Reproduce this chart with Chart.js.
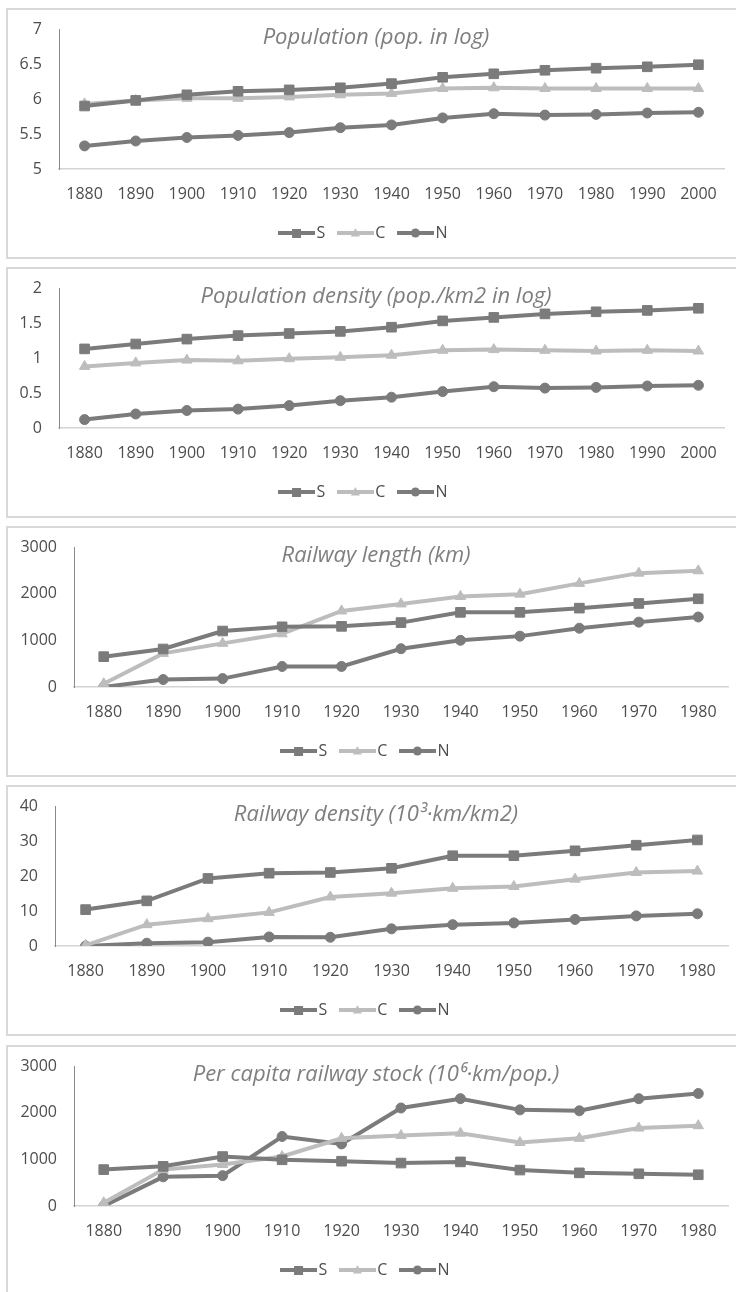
<!DOCTYPE html>
<html lang="en">
<head>
  <meta charset="UTF-8">
  <title>Population and railways by region</title>
  <script src="https://cdn.jsdelivr.net/npm/chart.js"></script>
  <style>
    body { margin: 0; overflow: hidden; background: #fff; }
    .panel { position: absolute; left: 6px; width: 736px; height: 247px; border: 2px solid #d9d9d9; }
    .panel canvas { display: block; }
  </style>
</head>
<body>
  <div class="panel" style="top: 8px;"><canvas id="c1" width="736" height="247"></canvas></div>
  <div class="panel" style="top: 267px;"><canvas id="c2" width="736" height="247"></canvas></div>
  <div class="panel" style="top: 526px;"><canvas id="c3" width="736" height="247"></canvas></div>
  <div class="panel" style="top: 785px;"><canvas id="c4" width="736" height="247"></canvas></div>
  <div class="panel" style="top: 1045px;"><canvas id="c5" width="736" height="247"></canvas></div>

  <script>
    // categories
    const yearsLong = ['1880', '1890', '1900', '1910', '1920', '1930', '1940', '1950', '1960', '1970', '1980', '1990', '2000'];
    const yearsShort = ['1880', '1890', '1900', '1910', '1920', '1930', '1940', '1950', '1960', '1970', '1980'];
    const regions = ['S', 'C', 'N'];

    // population (log)
    const popS = [5.90, 5.98, 6.06, 6.11, 6.13, 6.16, 6.22, 6.31, 6.36, 6.41, 6.44, 6.46, 6.49];
    const popC = [5.93, 5.98, 6.01, 6.01, 6.03, 6.06, 6.08, 6.15, 6.16, 6.15, 6.15, 6.15, 6.15];
    const popN = [5.33, 5.40, 5.45, 5.48, 5.52, 5.59, 5.63, 5.73, 5.79, 5.77, 5.78, 5.80, 5.81];
    const popTicks = [5, 5.5, 6, 6.5, 7];

    // population density (log)
    const densS = [1.13, 1.20, 1.27, 1.32, 1.35, 1.38, 1.44, 1.53, 1.58, 1.63, 1.66, 1.68, 1.71];
    const densC = [0.88, 0.93, 0.97, 0.96, 0.99, 1.01, 1.04, 1.11, 1.12, 1.11, 1.10, 1.11, 1.10];
    const densN = [0.12, 0.20, 0.25, 0.27, 0.32, 0.39, 0.44, 0.52, 0.59, 0.57, 0.58, 0.60, 0.61];
    const densTicks = [0, 0.5, 1, 1.5, 2];

    // railway length (km)
    const railS = [650, 815, 1200, 1290, 1300, 1380, 1600, 1600, 1690, 1790, 1890];
    const railC = [70, 720, 935, 1140, 1630, 1780, 1940, 1990, 2220, 2440, 2490];
    const railN = [0, 160, 180, 440, 440, 820, 1000, 1090, 1260, 1390, 1500];
    const railTicks = [0, 1000, 2000, 3000];

    // railway density
    const rdS = [10.4, 12.9, 19.3, 20.8, 21.0, 22.2, 25.8, 25.8, 27.2, 28.8, 30.3];
    const rdC = [0.2, 6.1, 7.8, 9.6, 14.0, 15.1, 16.5, 17.0, 19.1, 21.0, 21.4];
    const rdN = [0, 0.8, 1.1, 2.6, 2.5, 4.9, 6.1, 6.6, 7.6, 8.6, 9.2];
    const rdTicks = [0, 10, 20, 30, 40];

    // per capita railway stock
    const pcS = [780, 850, 1060, 990, 960, 920, 945, 770, 710, 690, 670];
    const pcC = [70, 780, 890, 1060, 1450, 1510, 1560, 1360, 1450, 1670, 1720];
    const pcN = [0, 625, 650, 1490, 1330, 2100, 2300, 2060, 2040, 2300, 2410];
    const pcTicks = [0, 1000, 2000, 3000];

    const darkGrey = '#7b7b7b';
    const lightGrey = '#bdbdbd';
    const textGrey = '#4d4d4d';
    const colors = [darkGrey, lightGrey, darkGrey];
    const styles = ['rect', 'triangle', 'circle'];
    const radii = [6.8, 6, 5];

    Chart.defaults.font.family = '"Open Sans", sans-serif';
    Chart.defaults.animation = false;

    // line + marker swatch for the legend
    function swatch(color, style) {
      const cv = document.createElement('canvas');
      cv.width = 37; cv.height = 14;
      const g = cv.getContext('2d');
      g.strokeStyle = color; g.fillStyle = color; g.lineWidth = 4;
      g.beginPath(); g.moveTo(0, 7); g.lineTo(37, 7); g.stroke();
      g.beginPath();
      if (style === 'rect') g.rect(14, 3, 9, 9);
      else if (style === 'triangle') { g.moveTo(18.5, 2); g.lineTo(23, 10.5); g.lineTo(14, 10.5); g.closePath(); }
      else g.arc(18.5, 7, 4.5, 0, Math.PI * 2);
      g.fill();
      return cv;
    }

    // title sits inside the plot area, centred on the panel
    const panelTitle = {
      id: 'panelTitle',
      afterDraw(chart, args, opts) {
        const ctx = chart.ctx;
        ctx.save();
        ctx.font = 'italic 22px "Open Sans"';
        ctx.fillStyle = '#7f7f7f';
        ctx.textAlign = 'center';
        ctx.textBaseline = 'middle';
        ctx.fillText(opts.text, chart.width / 2, 28);
        ctx.restore();
      }
    };

    function makeChart(id, labels, series, ticks, title, axisLeft, padRight) {
      new Chart(document.getElementById(id), {
        type: 'line',
        data: {
          labels: labels,
          datasets: series.map((vals, i) => ({
            label: regions[i],
            data: vals,
            borderColor: colors[i],
            backgroundColor: colors[i],
            borderWidth: 4,
            pointStyle: styles[i],
            pointRadius: radii[i],
            pointBorderWidth: 1,
            tension: 0
          }))
        },
        plugins: [panelTitle],
        options: {
          responsive: false,
          layout: { padding: { top: 19, left: 0, right: padRight, bottom: 6 } },
          scales: {
            x: {
              offset: true,
              grid: { display: false, drawTicks: false },
              border: { display: true, color: '#d4d4d4', width: 1.5 },
              ticks: { color: textGrey, font: { size: 16 }, padding: 16, maxRotation: 0 },
              afterFit: (s) => { s.height = 38; }
            },
            y: {
              min: ticks[0],
              max: ticks[ticks.length - 1],
              grid: { display: false, drawTicks: false },
              border: { display: true, color: '#8a8a8a', width: 1 },
              ticks: {
                stepSize: ticks[1] - ticks[0],
                color: textGrey,
                font: { size: 16 },
                padding: 17,
                callback: (v) => String(+v.toFixed(2))
              },
              afterFit: (s) => {
                s.width = axisLeft;
                // tick padding otherwise pushes the plot top down
                s.paddingTop = 0;
                s.paddingBottom = 0;
              }
            }
          },
          plugins: {
            panelTitle: { text: title },
            tooltip: { enabled: false },
            legend: {
              position: 'bottom',
              labels: {
                usePointStyle: true,
                pointStyleWidth: 24,
                padding: 18,
                color: textGrey,
                font: { size: 16 },
                generateLabels: (chart) => chart.data.datasets.map((ds, i) => ({
                  text: ds.label,
                  pointStyle: swatch(colors[i], styles[i]),
                  fillStyle: colors[i],
                  strokeStyle: colors[i],
                  lineWidth: 0,
                  fontColor: textGrey,
                  hidden: false,
                  datasetIndex: i
                }))
              }
            }
          }
        }
      });
    }

    makeChart('c1', yearsLong, [popS, popC, popN], popTicks, 'Population (pop. in log)', 51, 20);
    makeChart('c2', yearsLong, [densS, densC, densN], densTicks, 'Population density (pop./km2 in log)', 51, 20);
    makeChart('c3', yearsShort, [railS, railC, railN], railTicks, 'Railway length (km)', 66, 16);
    makeChart('c4', yearsShort, [rdS, rdC, rdN], rdTicks, 'Railway density (10³·km/km2)', 47, 16);
    makeChart('c5', yearsShort, [pcS, pcC, pcN], pcTicks, 'Per capita railway stock (10⁶·km/pop.)', 66, 16);
  </script>
</body>
</html>
